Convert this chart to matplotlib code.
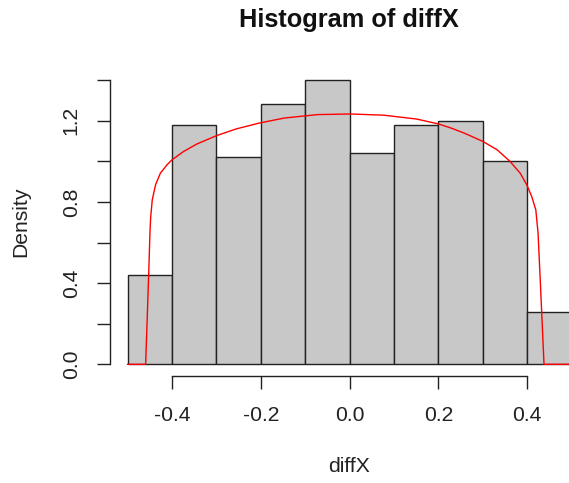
import matplotlib
matplotlib.use("Agg")
import matplotlib.pyplot as plt
import numpy as np

plt.rcParams['font.family'] = ['Liberation Sans', 'DejaVu Sans']

# Histogram data
bin_edges = [-0.5, -0.4, -0.3, -0.2, -0.1, 0.0, 0.1, 0.2, 0.3, 0.4, 0.5]
densities = [0.44, 1.18, 1.02, 1.28, 1.40, 1.04, 1.18, 1.20, 1.00, 0.26]

# Red density curve
curve_x = [-0.500, -0.4593, -0.4556, -0.4519, -0.4496, -0.4481, -0.4444, -0.437,
           -0.426, -0.411, -0.400, -0.374, -0.344, -0.300, -0.256, -0.204,
           -0.147, -0.072, 0.002, 0.077, 0.151, 0.200, 0.228, 0.258, 0.300,
           0.332, 0.361, 0.384, 0.399, 0.410, 0.4193, 0.4244, 0.4296, 0.434,
           0.4378, 0.500]
curve_y = [0.0, 0.0, 0.235, 0.48, 0.646, 0.72, 0.81, 0.884,
           0.942, 0.983, 1.007, 1.048, 1.085, 1.126, 1.159, 1.188,
           1.213, 1.230, 1.233, 1.227, 1.208, 1.184, 1.164, 1.139, 1.098,
           1.057, 1.000, 0.942, 0.884, 0.827, 0.761, 0.646, 0.40, 0.186,
           0.0, 0.0]

xticks = [-0.4, -0.2, 0.0, 0.2, 0.4]
yticks = [0.0, 0.2, 0.4, 0.6, 0.8, 1.0, 1.2, 1.4]
ytick_labels = ["0.0", "", "0.4", "", "0.8", "", "1.2", ""]

W, H = 569, 483
fig = plt.figure(figsize=(W / 100, H / 100), dpi=100)
ax = fig.add_axes([109.8 / W, 1 - 375.7 / H, 479.6 / W, 307.0 / H])

lefts = np.array(bin_edges[:-1])
widths = np.diff(bin_edges)
ax.bar(lefts, densities, width=widths, align='edge', color='#C8C8C8',
       edgecolor='#222222', linewidth=1.0)
ax.plot(curve_x, curve_y, color='#FF0000', linewidth=1.0)

ax.set_xlim(-0.54, 0.54)
ax.set_ylim(-0.056, 1.456)

for s in ['top', 'right']:
    ax.spines[s].set_visible(False)
ax.spines['left'].set_bounds(0, 1.4)
ax.spines['bottom'].set_bounds(-0.4, 0.4)
for s in ['left', 'bottom']:
    ax.spines[s].set_color('#222222')
    ax.spines[s].set_linewidth(1.0)

base = 15.2
ax.set_xticks(xticks)
ax.set_xticklabels([f"{t:.1f}" for t in xticks])
ax.set_yticks(yticks)
ax.set_yticklabels(ytick_labels, rotation=90, va='center')
ax.tick_params(axis='both', length=9.4, width=1.0, color='#222222',
               labelsize=base, labelcolor='#222222')
ax.tick_params(axis='x', pad=12.2)
ax.tick_params(axis='y', pad=11.5)

fig.text(349 / W, 1 - 467 / H, "diffX", ha='center', va='center',
         fontsize=base, color='#222222')
fig.text(21 / W, 1 - 222 / H, "Density", ha='center', va='center',
         rotation=90, fontsize=base, color='#222222')
fig.text(349 / W, 1 - 20 / H, "Histogram of diffX", ha='center', va='center',
         fontsize=base * 1.2, fontweight='bold', color='#111111')

fig.savefig("out.png", dpi=100)
